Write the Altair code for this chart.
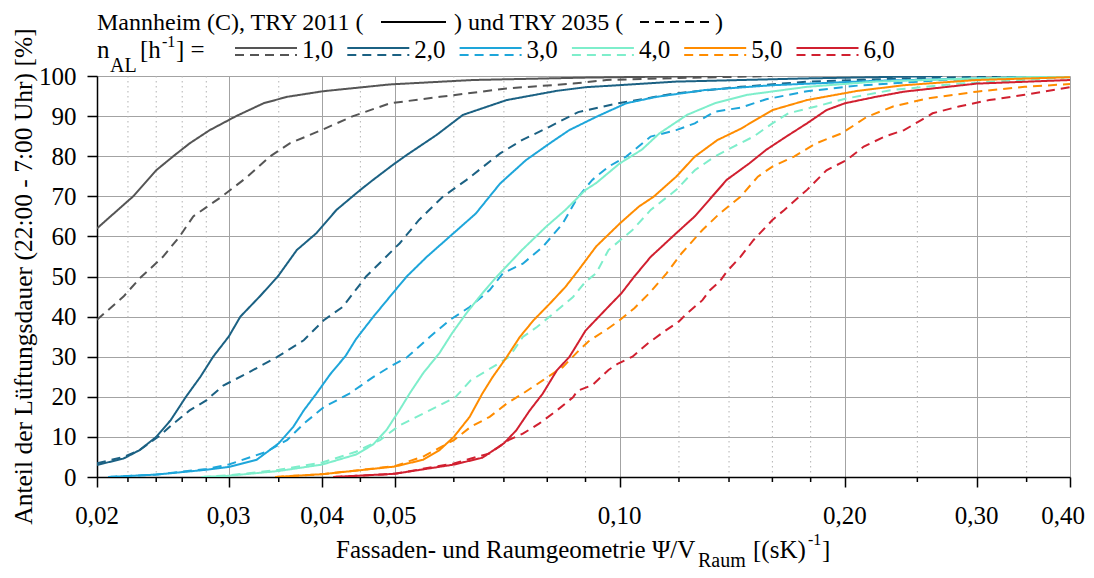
import altair as alt
import pandas as pd

FONT = "Liberation Serif"
FS = 25

# ---------------- data ----------------
n_al = ["1,0", "2,0", "3,0", "4,0", "5,0", "6,0"]
colors = ["#555555", "#1b6183", "#1ea6da", "#7eeecb", "#ff8c00", "#d12030"]
years = ["2011", "2035"]

x_1_2011 = [0.02, 0.02236, 0.024, 0.0253, 0.0266, 0.0283, 0.0307, 0.0334, 0.0359, 0.0401, 0.0493, 0.0636, 0.09, 0.11, 0.14]
y_1_2011 = [62, 70, 76.5, 80, 83.2, 86.5, 90, 93.2, 94.8, 96.2, 97.9, 99.0, 99.6, 99.8, 100]

x_1_2035 = [0.02, 0.0217, 0.0228, 0.0245, 0.0258, 0.0269, 0.0294, 0.0317, 0.0341, 0.0362, 0.0399, 0.044, 0.0493, 0.0575, 0.0706, 0.0866, 0.096, 0.12, 0.16]
y_1_2035 = [39.2, 45.0, 49.5, 54.9, 60, 65, 70, 74.7, 80, 83.2, 86.5, 90, 93.2, 94.8, 96.9, 98.1, 99.0, 99.5, 100]

x_2_2011 = [0.02, 0.0217, 0.0228, 0.024, 0.0251, 0.0263, 0.0275, 0.0286, 0.030, 0.0311, 0.033, 0.0349, 0.037, 0.0393, 0.0418, 0.045, 0.0468, 0.0497, 0.0519, 0.0569, 0.0617, 0.0706, 0.0824, 0.09, 0.119, 0.178, 0.27]
y_2_2011 = [3.0, 4.6, 6.7, 10, 14.2, 20, 25, 30, 35, 40, 45, 50, 56.6, 60.8, 66.6, 71.6, 74.1, 77.8, 80.3, 85.3, 90.3, 94, 96.3, 97.2, 98.6, 99.4, 100]

x_2_2035 = [0.02, 0.0217, 0.0228, 0.0243, 0.0253, 0.0266, 0.028, 0.0295, 0.0317, 0.0348, 0.0378, 0.0402, 0.0426, 0.0458, 0.0508, 0.0539, 0.058, 0.0624, 0.0692, 0.074, 0.0797, 0.088, 0.0994, 0.119, 0.145, 0.178, 0.24, 0.34]
y_2_2035 = [3.4, 5.0, 6.7, 10.4, 13.3, 16.6, 19.1, 22.8, 25.8, 29.9, 34.1, 39.1, 42.4, 50, 58.3, 64.1, 69.9, 74.1, 80.7, 84, 86.9, 91, 93.2, 95.7, 97.3, 98.6, 99.4, 100]

x_3_2011 = [0.0207, 0.024, 0.028, 0.030, 0.0327, 0.035, 0.0366, 0.0378, 0.0393, 0.041, 0.043, 0.0444, 0.0468, 0.0497, 0.0519, 0.0552, 0.0592, 0.0642, 0.0692, 0.0749, 0.0806, 0.0856, 0.093, 0.102, 0.112, 0.13, 0.16, 0.22, 0.30, 0.40]
y_3_2011 = [0, 0.6, 1.8, 2.5, 4.3, 8.4, 12.5, 16.6, 20.8, 25.6, 30.2, 34.4, 39.9, 45.8, 50, 54.9, 59.9, 65.7, 73.2, 79, 83.2, 86.5, 89.8, 93.2, 94.8, 96.5, 97.7, 98.8, 99.4, 99.9]

x_3_2035 = [0.0207, 0.024, 0.028, 0.030, 0.0337, 0.0359, 0.0378, 0.0402, 0.0435, 0.0468, 0.0493, 0.0519, 0.0557, 0.0592, 0.063, 0.067, 0.0698, 0.0742, 0.0789, 0.0839, 0.0877, 0.0919, 0.0966, 0.102, 0.110, 0.119, 0.126, 0.134, 0.145, 0.157, 0.178, 0.208, 0.27, 0.40]
y_3_2035 = [0, 0.6, 2.0, 3.1, 6.3, 9.2, 13.3, 17.4, 20.8, 24.9, 27.5, 29.8, 34.9, 39.1, 42.4, 46.6, 50.8, 53.2, 57.4, 63.2, 69.5, 74.1, 77.4, 79.9, 84.9, 86.5, 88.2, 91.1, 92.1, 94.2, 96.2, 97.6, 99.0, 100]

x_4_2011 = [0.0276, 0.030, 0.035, 0.040, 0.0444, 0.0468, 0.0488, 0.0508, 0.0524, 0.0546, 0.0574, 0.0597, 0.0624, 0.0655, 0.0685, 0.074, 0.0797, 0.0846, 0.090, 0.093, 0.100, 0.107, 0.113, 0.123, 0.134, 0.148, 0.178, 0.22, 0.30, 0.40]
y_4_2011 = [0, 0.3, 1.5, 3.1, 5.6, 8.1, 11.8, 16.8, 20.9, 25.9, 30.9, 35.9, 40.9, 45.8, 50, 56.6, 62.4, 66.6, 71.6, 73.3, 78.2, 81.6, 85.7, 90.3, 93.2, 95.3, 97.3, 98.6, 99.4, 100]

x_4_2035 = [0.0276, 0.030, 0.035, 0.040, 0.0444, 0.0478, 0.0508, 0.0546, 0.0603, 0.0632, 0.0676, 0.0711, 0.0742, 0.0775, 0.0824, 0.0866, 0.090, 0.093, 0.0966, 0.104, 0.110, 0.119, 0.126, 0.134, 0.142, 0.151, 0.160, 0.168, 0.183, 0.201, 0.231, 0.284, 0.40]
y_4_2035 = [0, 0.4, 1.8, 3.6, 6.3, 9.2, 12.9, 15.8, 19.9, 24.1, 27.4, 29.9, 34.9, 37.4, 41.5, 44.9, 48.7, 50.8, 56.6, 61.6, 66.6, 71.6, 76.5, 79.9, 82.4, 84.9, 88.2, 90.7, 92.4, 94.4, 96.5, 98.1, 99.7]

x_5_2011 = [0.0346, 0.040, 0.050, 0.0546, 0.0574, 0.060, 0.063, 0.0655, 0.0676, 0.0706, 0.0735, 0.0767, 0.0806, 0.0846, 0.088, 0.093, 0.100, 0.106, 0.111, 0.119, 0.126, 0.135, 0.145, 0.160, 0.178, 0.208, 0.24, 0.30, 0.40]
y_5_2011 = [0, 0.7, 2.6, 4.3, 6.7, 10.0, 15.0, 20.8, 24.9, 29.9, 34.9, 39.1, 43.2, 47.4, 51.5, 57.5, 63.2, 67.4, 69.9, 74.9, 79.9, 84.0, 86.8, 91.5, 94.0, 96.3, 97.7, 99.0, 99.7]

x_5_2035 = [0.0346, 0.040, 0.050, 0.0546, 0.060, 0.0632, 0.067, 0.0706, 0.0742, 0.0789, 0.0839, 0.0878, 0.0908, 0.0966, 0.0995, 0.1046, 0.110, 0.1155, 0.121, 0.129, 0.136, 0.145, 0.153, 0.160, 0.171, 0.183, 0.198, 0.214, 0.232, 0.258, 0.30, 0.348, 0.40]
y_5_2035 = [0, 0.7, 2.7, 5.1, 9.2, 12.5, 15.0, 18.3, 20.8, 24.1, 27.4, 31.2, 33.8, 37.1, 38.8, 42.1, 46.2, 50.8, 55.8, 61.6, 65.7, 69.9, 74.9, 77.4, 79.9, 83.2, 85.7, 89.8, 92.4, 94.4, 96.1, 97.3, 98.0]

x_6_2011 = [0.0414, 0.050, 0.060, 0.0655, 0.070, 0.0727, 0.0758, 0.0789, 0.0824, 0.0856, 0.0868, 0.090, 0.0966, 0.1005, 0.1046, 0.110, 0.119, 0.126, 0.134, 0.139, 0.149, 0.157, 0.167, 0.178, 0.189, 0.20, 0.22, 0.24, 0.30, 0.40]
y_6_2011 = [0, 0.8, 3.1, 4.8, 8.4, 11.6, 16.6, 20.8, 26.6, 29.9, 31.7, 36.5, 42.5, 45.8, 50, 54.9, 60.8, 65.0, 70.7, 74.1, 78.2, 81.6, 84.9, 88.2, 91.5, 93.2, 94.8, 96.1, 98.1, 99.0]

x_6_2035 = [0.0414, 0.050, 0.060, 0.067, 0.071, 0.0742, 0.078, 0.0824, 0.0866, 0.0878, 0.0919, 0.0966, 0.0995, 0.104, 0.109, 0.1155, 0.120, 0.123, 0.129, 0.132, 0.136, 0.139, 0.145, 0.151, 0.160, 0.166, 0.178, 0.189, 0.201, 0.212, 0.226, 0.24, 0.253, 0.262, 0.284, 0.312, 0.348, 0.40]
y_6_2035 = [0, 0.8, 3.4, 5.9, 9.2, 10.8, 13.3, 16.6, 19.9, 21.5, 22.9, 26.7, 28.3, 30.0, 33.3, 36.7, 38.8, 40.8, 44.1, 46.6, 48.7, 51.2, 54.9, 59.1, 64.1, 66.6, 71.6, 76.5, 79.0, 82.4, 84.9, 86.5, 89.0, 90.7, 92.4, 94.0, 95.3, 97.2]

x_major = [0.02, 0.03, 0.04, 0.05, 0.10, 0.20, 0.30, 0.40]
x_labels = ["0,02", "0,03", "0,04", "0,05", "0,10", "0,20", "0,30", "0,40"]
x_minor = [0.022, 0.024, 0.026, 0.028, 0.035, 0.045, 0.06, 0.07, 0.08, 0.09,
           0.12, 0.14, 0.16, 0.18, 0.25, 0.35]
y_ticks = [0, 10, 20, 30, 40, 50, 60, 70, 80, 90, 100]

series = {
    ("1,0", "2011"): (x_1_2011, y_1_2011), ("1,0", "2035"): (x_1_2035, y_1_2035),
    ("2,0", "2011"): (x_2_2011, y_2_2011), ("2,0", "2035"): (x_2_2035, y_2_2035),
    ("3,0", "2011"): (x_3_2011, y_3_2011), ("3,0", "2035"): (x_3_2035, y_3_2035),
    ("4,0", "2011"): (x_4_2011, y_4_2011), ("4,0", "2035"): (x_4_2035, y_4_2035),
    ("5,0", "2011"): (x_5_2011, y_5_2011), ("5,0", "2035"): (x_5_2035, y_5_2035),
    ("6,0", "2011"): (x_6_2011, y_6_2011), ("6,0", "2035"): (x_6_2035, y_6_2035),
}

rows = []
for (n, yr), (xs, ys) in series.items():
    for i, (xv, yv) in enumerate(zip(xs, ys)):
        rows.append({"n": n, "year": yr, "key": n + "_" + yr, "x": xv, "y": yv, "i": i})
df = pd.DataFrame(rows)

# ---------------- layout constants ----------------
W, H = 973, 401
DASH = [9, 6]
GRID = "#a3a3a3"

xscale = alt.Scale(type="log", domain=[0.02, 0.40], nice=False)
yscale = alt.Scale(domain=[0, 100], nice=False)

x_axis = alt.Axis(values=x_major, title=None, labels=False, grid=True)
y_axis = alt.Axis(values=y_ticks, title=None, grid=True)

minor_df = pd.DataFrame({"v": x_minor})
minor_grid = alt.Chart(minor_df).mark_rule(color="#b3b3b3", strokeWidth=1, strokeDash=[1.5, 3.5]).encode(
    x=alt.X("v:Q", scale=xscale, axis=x_axis), y=alt.value(0), y2=alt.value(H))

lines = alt.Chart(df).mark_line(strokeWidth=2, clip=True).encode(
    x=alt.X("x:Q", scale=xscale, axis=x_axis),
    y=alt.Y("y:Q", scale=yscale, axis=y_axis),
    color=alt.Color("n:N", scale=alt.Scale(domain=n_al, range=colors), legend=None),
    strokeDash=alt.StrokeDash("year:N", scale=alt.Scale(domain=years, range=[[1, 0], DASH]), legend=None),
    detail="key:N",
    order="i:Q",
)

minor_ticks = alt.Chart(minor_df).mark_rule(color="black", strokeWidth=1.5).encode(
    x=alt.X("v:Q", scale=xscale, axis=x_axis), y=alt.value(H), y2=alt.value(H + 5))

xlab_df = pd.DataFrame({"v": x_major, "lab": x_labels})


def xlabels(d, dx=0):
    return alt.Chart(d).mark_text(font=FONT, fontSize=FS, align="center", dx=dx,
                                  baseline="alphabetic", color="black").encode(
        x=alt.X("v:Q", scale=xscale, axis=x_axis), y=alt.value(H + 47), text="lab:N")


one = alt.Data(values=[{"a": 0}])


def txt(s, x, y, size=FS, align="left", angle=0):
    return alt.Chart(one).mark_text(text=s, fontSize=size, font=FONT, align=align,
                                    baseline="alphabetic", angle=angle, color="black").encode(
        x=alt.value(x), y=alt.value(y))


def seg(x0, x1, y, color, dash=None):
    kw = dict(color=color, strokeWidth=2)
    if dash:
        kw["strokeDash"] = dash
    return alt.Chart(one).mark_rule(**kw).encode(x=alt.value(x0), x2=alt.value(x1), y=alt.value(y))


layers = [minor_grid, lines, minor_ticks, xlabels(xlab_df.iloc[:-1]), xlabels(xlab_df.iloc[-1:], dx=-7)]

# header row 1
r1 = -46.4
layers += [
    txt("Mannheim (C), TRY 2011 (", 0, r1, size=24),
    seg(284, 349, -54, "black"),
    txt(") und TRY 2035 (", 357, r1, size=24),
    seg(543, 612, -54, "black", DASH),
    txt(")", 618, r1, size=24),
]
# header row 2
r2 = -18.5
layers += [
    txt("n", 0, r2),
    txt("AL", 13, -4, size=20),
    txt("[h", 43, r2),
    txt("-1", 65, -29.5, size=16),
    txt("] =", 79, r2),
]
for k, (n, c) in enumerate(zip(n_al, colors)):
    x0 = 138 + 112.3 * k
    layers += [
        seg(x0, x0 + 62, -28, c),
        seg(x0, x0 + 62, -21, c, DASH),
        txt(n, x0 + 67, r2),
    ]

# x-axis title
layers += [
    txt("Fassaden- und Raumgeometrie \u03a8/V", 239, 482),
    txt("Raum", 601, 491, size=20),
    txt("[(sK)", 656, 482),
    txt("-1", 711, 469, size=16),
    txt("]", 725, 482),
]
# y-axis title
layers += [txt("Anteil der Lüftungsdauer (22:00 - 7:00 Uhr) [%]", -65, H / 2, size=25.5,
               align="center", angle=270)]

chart = alt.layer(*layers).properties(
    width=W, height=H,
    autosize=alt.AutoSizeParams(type="none"),
    padding={"left": 89, "top": 68, "right": 16, "bottom": 96},
).configure_view(strokeWidth=0).configure_axis(
    gridColor=GRID, gridWidth=1, gridOpacity=1,
    tickSize=10, tickColor="black", tickWidth=1.5,
    domainColor="black", domainWidth=1.5,
    labelFont=FONT, labelFontSize=FS, labelColor="black", labelPadding=11,
)

chart.save("out.html", embed_options={"renderer": "svg", "actions": False})
